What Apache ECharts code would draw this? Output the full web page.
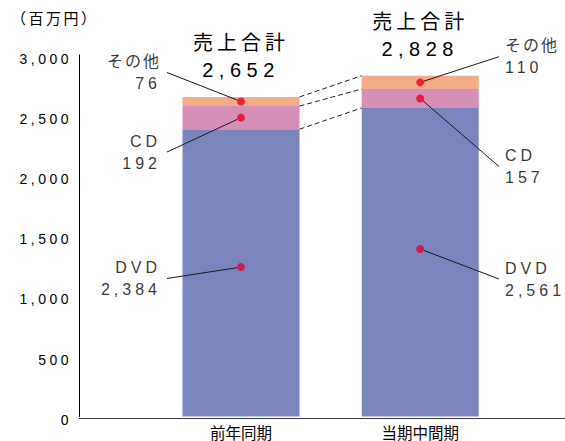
<!DOCTYPE html>
<html>
<head>
<meta charset="utf-8">
<script src="https://cdn.jsdelivr.net/npm/echarts@6/dist/echarts.min.js"></script>
<style>
html, body { margin: 0; padding: 0; background: #fff; }
#chart { width: 565px; height: 441px; }
</style>
</head>
<body>
<div id="chart"></div>
<script>
// データ（百万円）
var categories = ['前年同期', '当期中間期'];
var dvdValues = [2384, 2561];
var cdValues = [192, 157];
var otherValues = [76, 110];
var yTicks = [0, 500, 1000, 1500, 2000, 2500, 3000];
var dvdDotAt = [1240, 1390];   // 赤い点の高さ（DVD）
var yName = '（百万円）';

var FONT = "'Liberation Sans', 'Noto Sans CJK JP', sans-serif";
var BAR_W = 117;
// 文字間隔（元の図は字間が広い）
var latinGap = { 14: 3.5, 16: 4, 20: 5.5 };
var cjkGap = { 15: 2.5, 16: 2, 20: 4 };

function fmt(v) {
    return v.toLocaleString('en-US');
}

var totals = [];
var cdTop = [];
for (var i = 0; i < categories.length; i++) {
    cdTop.push(dvdValues[i] + cdValues[i]);
    totals.push(dvdValues[i] + cdValues[i] + otherValues[i]);
}

// 点とラベルの位置
var labelPos = {
    'DVD': [{ x: 167, y: 278.5 }, { x: 499, y: 279 }],
    'CD': [{ x: 167, y: 152 }, { x: 499, y: 166.5 }],
    'その他': [{ x: 167, y: 72.5 }, { x: 499, y: 56.7 }]
};

function dotSeries(name, dots, values) {
    return {
        name: name,
        type: 'scatter',
        xAxisIndex: 0,
        yAxisIndex: 0,
        symbol: 'circle',
        symbolSize: 8,
        itemStyle: { color: '#e6002b' },
        z: 5,
        data: dots.map(function (v, i) {
            return {
                value: v,
                label: { padding: i == 0 ? [0, 6, 0, 0] : [0, 0, 0, 6] }
            };
        }),
        label: {
            show: true,
            fontFamily: FONT,
            fontSize: 16,
            lineHeight: 22,
            color: '#000',
            formatter: function (p) {
                return p.seriesName + '\n' + fmt(values[p.dataIndex]);
            }
        },
        labelLine: {
            show: true,
            lineStyle: { color: '#1a1a1a', width: 1 }
        },
        labelLayout: function (p) {
            var pos = labelPos[name][p.dataIndex];
            return {
                x: pos.x,
                y: pos.y,
                align: p.dataIndex == 0 ? 'right' : 'left',
                verticalAlign: 'middle'
            };
        }
    };
}

var chart = echarts.init(document.getElementById('chart'), null, { renderer: 'svg' });

var option = {
    animation: false,
    backgroundColor: '#fff',
    title: {
        text: yName,
        left: 11,
        top: 11,
        padding: 0,
        textStyle: { fontFamily: FONT, fontSize: 15, fontWeight: 'normal', color: '#000' }
    },
    grid: [
        { left: 151.4, right: 55.2, top: 55, bottom: 23 },
        { left: 79, right: 0, top: 55, bottom: 23 }
    ],
    xAxis: [
        {
            type: 'category',
            gridIndex: 0,
            data: categories,
            axisLine: { show: false },
            axisTick: { show: false },
            axisLabel: { fontFamily: FONT, fontSize: 15.5, color: '#000', margin: 9 }
        },
        {
            type: 'value',
            gridIndex: 1,
            min: 0,
            max: 1,
            axisLine: { show: true, lineStyle: { color: '#3a3a3a', width: 1 } },
            axisTick: { show: false },
            axisLabel: { show: false },
            splitLine: { show: false }
        }
    ],
    yAxis: [
        {
            type: 'value',
            gridIndex: 0,
            min: yTicks[0],
            max: yTicks[yTicks.length - 1],
            interval: yTicks[1] - yTicks[0],
            offset: 72.4,
            axisLine: { show: true, lineStyle: { color: '#000', width: 1 } },
            axisTick: { show: false },
            splitLine: { show: false },
            axisLabel: {
                fontFamily: FONT,
                fontSize: 14,
                color: '#000',
                margin: 7,
                verticalAlign: 'top',
                lineHeight: 7,
                formatter: function (v) { return fmt(v); }
            }
        },
        {
            type: 'value',
            gridIndex: 1,
            show: false
        }
    ],
    series: [
        {
            name: 'DVD',
            type: 'bar',
            stack: 'sales',
            barWidth: BAR_W,
            itemStyle: { color: '#7a85bd' },
            data: dvdValues
        },
        {
            name: 'CD',
            type: 'bar',
            stack: 'sales',
            barWidth: BAR_W,
            itemStyle: { color: '#d690b7' },
            data: cdValues
        },
        {
            name: 'その他',
            type: 'bar',
            stack: 'sales',
            barWidth: BAR_W,
            itemStyle: { color: '#f5ab86' },
            data: otherValues,
            label: {
                show: true,
                position: 'top',
                distance: 13.5,
                fontFamily: FONT,
                fontSize: 20,
                lineHeight: 27,
                color: '#000',
                formatter: function (p) {
                    return '売上合計\n' + fmt(totals[p.dataIndex]);
                }
            }
        },
        {
            // 棒の間の破線
            type: 'custom',
            xAxisIndex: 0,
            yAxisIndex: 0,
            z: 3,
            encode: { x: 0, y: [1, 2] },
            data: [
                [0, dvdValues[0], dvdValues[1]],
                [0, cdTop[0], cdTop[1]],
                [0, totals[0], totals[1]]
            ],
            renderItem: function (params, api) {
                var a = api.coord([0, api.value(1)]);
                var b = api.coord([1, api.value(2)]);
                return {
                    type: 'line',
                    shape: { x1: a[0] + BAR_W / 2, y1: a[1], x2: b[0] - BAR_W / 2, y2: b[1] },
                    style: { stroke: '#222', lineWidth: 1, lineDash: [5, 3] }
                };
            }
        },
        dotSeries('DVD', dvdDotAt, dvdValues),
        dotSeries('CD', [0, 1].map(function (i) { return dvdValues[i] + cdValues[i] / 2; }), cdValues),
        dotSeries('その他', [0, 1].map(function (i) { return cdTop[i] + otherValues[i] / 2; }), otherValues)
    ]
};

chart.setOption(option);

function spaceText() {
    document.querySelectorAll('#chart text').forEach(function (t) {
        var size = parseFloat(getComputedStyle(t).fontSize);
        var isCjk = /[^\x00-\x7f]/.test(t.textContent);
        var gap = isCjk ? cjkGap[size] : latinGap[size];
        if (gap) {
            t.style.letterSpacing = gap + 'px';
        }
    });
}
chart.on('finished', spaceText);
spaceText();
</script>
</body>
</html>
